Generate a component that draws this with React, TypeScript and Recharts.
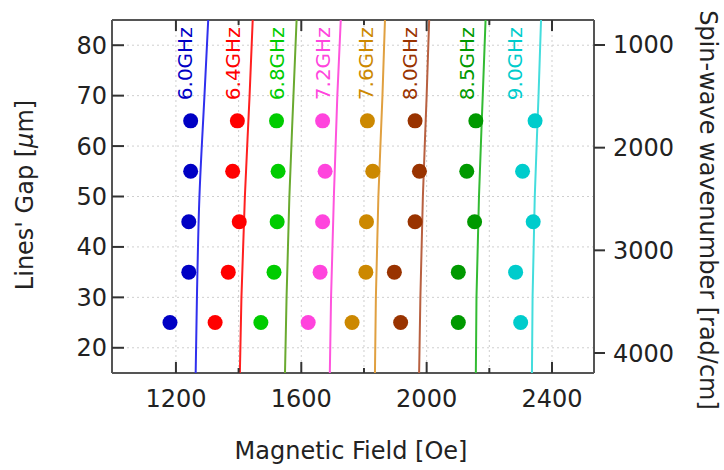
import React from "react";
import { ComposedChart, Scatter, XAxis, YAxis, CartesianGrid } from "recharts";

// ---- data ----
const gaps = [25, 35, 45, 55, 65];
const theoryGaps = [15, 30, 50, 70, 85];
const freqLabels = ["6.0GHz", "6.4GHz", "6.8GHz", "7.2GHz", "7.6GHz", "8.0GHz", "8.5GHz", "9.0GHz"];

const meas60 = [1181, 1241, 1241, 1247, 1247];
const meas64 = [1325, 1367, 1402, 1381, 1396];
const meas68 = [1471, 1513, 1523, 1526, 1521];
const meas72 = [1622, 1660, 1668, 1676, 1668];
const meas76 = [1762, 1806, 1808, 1828, 1811];
const meas80 = [1917, 1897, 1963, 1977, 1963];
const meas85 = [2101, 2101, 2153, 2128, 2157];
const meas90 = [2300, 2284, 2340, 2306, 2346];

const theo60 = [1263, 1267, 1275, 1291, 1303];
const theo64 = [1404, 1409, 1420, 1435, 1445];
const theo68 = [1548, 1553, 1562, 1575, 1585];
const theo72 = [1691, 1695, 1704, 1715, 1726];
const theo76 = [1835, 1838, 1846, 1859, 1867];
const theo80 = [1976, 1980, 1988, 2000, 2008];
const theo85 = [2157, 2159, 2167, 2179, 2188];
const theo90 = [2336, 2338, 2345, 2357, 2365];

const labelField = [1229, 1382, 1521, 1669, 1806, 1947, 2128, 2282];
const labelGap = 69.1;

const fieldTicks = [1200, 1400, 1600, 1800, 2000, 2200, 2400];
const gapTicks = [20, 30, 40, 50, 60, 70, 80];
const kTicks = [1000, 2000, 3000, 4000];

const measured = [meas60, meas64, meas68, meas72, meas76, meas80, meas85, meas90];
const theory = [theo60, theo64, theo68, theo72, theo76, theo80, theo85, theo90];

const dotColors = ["#0000c4", "#ff0000", "#00cc00", "#ff44dd", "#cc8800", "#993300", "#009900", "#00cccc"];
const lineColors = ["#3030ee", "#ff2020", "#6aaa30", "#ff55dd", "#e0a040", "#b86040", "#33bb33", "#44dddd"];

const FONT = "'DejaVu Sans', Verdana, sans-serif";
const TICK = "#333";

const BottomTick = (p: any) => {
  const { x, y, payload } = p;
  const v = payload.value;
  const major = v % 400 === 0;
  return (
    <g>
      <line x1={x} x2={x} y1={y} y2={y - (major ? 11 : 5)} stroke={TICK} strokeWidth={2} />
      {major && (
        <text x={x} y={y + 34} textAnchor="middle" fontSize={24} fill="#222" fontFamily={FONT}>
          {v}
        </text>
      )}
    </g>
  );
};

const TopTick = (p: any) => {
  const { x, y, payload } = p;
  const v = payload.value;
  const major = v % 400 === 0;
  return <line x1={x} x2={x} y1={y} y2={y + (major ? 11 : 5)} stroke={TICK} strokeWidth={2} />;
};

const LeftTick = (p: any) => {
  const { x, y, payload } = p;
  return (
    <g>
      <line x1={x} x2={x + 12} y1={y} y2={y} stroke={TICK} strokeWidth={2} />
      <text x={x - 5} y={y + 8.5} textAnchor="end" fontSize={24} fill="#222" fontFamily={FONT}>
        {payload.value}
      </text>
    </g>
  );
};

const RightTick = (p: any) => {
  const { x, y, payload } = p;
  return (
    <g>
      <line x1={x} x2={x + 11} y1={y} y2={y} stroke={TICK} strokeWidth={2} />
      <text x={x + 19} y={y + 8.5} textAnchor="start" fontSize={24} fill="#222" fontFamily={FONT}>
        {payload.value}
      </text>
    </g>
  );
};

const makeDot = (color: string) => (p: any) =>
  <circle cx={p.cx} cy={p.cy} r={7.5} fill={color} />;

const makeLabel = (color: string, text: string) => (p: any) =>
  (
    <text
      x={p.cx}
      y={p.cy}
      dy="0.36em"
      transform={`rotate(-90 ${p.cx} ${p.cy})`}
      fontSize={20}
      fill={color}
      fontFamily={FONT}
    >
      {text}
    </text>
  );

const NoShape = () => <g />;

export default function App() {
  return (
    <div style={{ position: "absolute", left: 0, top: 0, width: 724, height: 470, background: "#fff" }}>
      <ComposedChart
        width={724}
        height={470}
        margin={{ top: 10, right: 70, bottom: 57, left: 52 }}
        style={{ fontFamily: FONT }}
      >
        <CartesianGrid xAxisId="b" yAxisId="g" stroke="#cfcfcf" strokeDasharray="2 3" />
        <XAxis
          xAxisId="b"
          dataKey="field"
          type="number"
          domain={[996, 2534]}
          ticks={fieldTicks}
          interval={0}
          height={40}
          tickSize={0}
          tickMargin={0}
          axisLine={{ stroke: "#555", strokeWidth: 2 }}
          tick={BottomTick}
          allowDataOverflow
        />
        <XAxis
          xAxisId="t"
          dataKey="field"
          type="number"
          orientation="top"
          domain={[996, 2534]}
          ticks={fieldTicks}
          interval={0}
          height={10}
          tickSize={0}
          tickMargin={0}
          axisLine={{ stroke: "#555", strokeWidth: 2 }}
          tick={TopTick}
          allowDataOverflow
        />
        <YAxis
          yAxisId="g"
          dataKey="gap"
          type="number"
          domain={[15, 85]}
          ticks={gapTicks}
          interval={0}
          width={60}
          tickSize={0}
          tickMargin={0}
          axisLine={{ stroke: "#555", strokeWidth: 2 }}
          tick={LeftTick}
          allowDataOverflow
        />
        <YAxis
          yAxisId="k"
          orientation="right"
          type="number"
          reversed
          domain={[756.5, 4194.8]}
          ticks={kTicks}
          interval={0}
          width={60}
          tickSize={0}
          tickMargin={0}
          axisLine={{ stroke: "#555", strokeWidth: 2 }}
          tick={RightTick}
          allowDataOverflow
        />

        {theory.map((vals, i) => (
          <Scatter
            key={"t" + i}
            xAxisId="b"
            yAxisId="g"
            data={vals.map((f, j) => ({ field: f, gap: theoryGaps[j] }))}
            line={{ stroke: lineColors[i], strokeWidth: 2 }}
            lineJointType="monotoneY"
            shape={NoShape}
            isAnimationActive={false}
          />
        ))}

        {measured.map((vals, i) => (
          <Scatter
            key={"m" + i}
            xAxisId="b"
            yAxisId="g"
            data={vals.map((f, j) => ({ field: f, gap: gaps[j] }))}
            shape={makeDot(dotColors[i])}
            isAnimationActive={false}
          />
        ))}

        {freqLabels.map((name, i) => (
          <Scatter
            key={"l" + i}
            xAxisId="b"
            yAxisId="g"
            data={[{ field: labelField[i], gap: labelGap }]}
            shape={makeLabel(dotColors[i], name)}
            isAnimationActive={false}
          />
        ))}

        <text x={351} y={459} textAnchor="middle" fontSize={24} fill="#222" fontFamily={FONT}>
          Magnetic Field [Oe]
        </text>
        <text
          x={24}
          y={195}
          dy="0.36em"
          textAnchor="middle"
          transform="rotate(-90 24 195)"
          fontSize={24}
          fill="#222"
          fontFamily={FONT}
        >
          Lines' Gap [<tspan fontStyle="italic">µ</tspan>m]
        </text>
        <text
          x={709}
          y={210}
          dy="0.36em"
          textAnchor="middle"
          transform="rotate(90 709 210)"
          fontSize={24}
          fill="#222"
          fontFamily={FONT}
        >
          Spin-wave wavenumber [rad/cm]
        </text>
      </ComposedChart>
    </div>
  );
}
